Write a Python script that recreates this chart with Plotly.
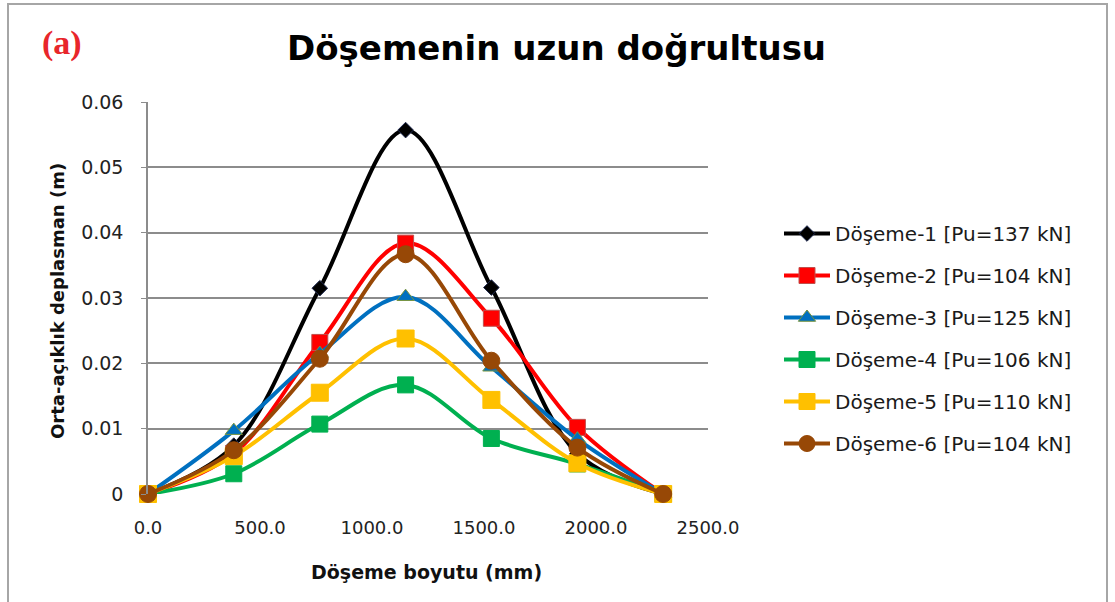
import plotly.graph_objects as go

# ---- data ----
x_mm = [0, 383, 767, 1150, 1533, 1917, 2300]
doseme1 = [0, 0.0074, 0.0315, 0.0557, 0.0316, 0.0062, 0]
doseme2 = [0, 0.0062, 0.0232, 0.0384, 0.0269, 0.0102, 0]
doseme3 = [0, 0.0097, 0.0215, 0.0302, 0.0194, 0.0084, 0]
doseme4 = [0, 0.0031, 0.0107, 0.0167, 0.0085, 0.0046, 0]
doseme5 = [0, 0.0058, 0.0155, 0.0238, 0.0144, 0.0047, 0]
doseme6 = [0, 0.0067, 0.0207, 0.0367, 0.0204, 0.0071, 0]
names = ["Döşeme-1 [Pu=137 kN]", "Döşeme-2 [Pu=104 kN]", "Döşeme-3 [Pu=125 kN]",
         "Döşeme-4 [Pu=106 kN]", "Döşeme-5 [Pu=110 kN]", "Döşeme-6 [Pu=104 kN]"]
x_ticks = [0, 500, 1000, 1500, 2000, 2500]
x_tick_labels = ["0.0", "500.0", "1000.0", "1500.0", "2000.0", "2500.0"]

series = [doseme1, doseme2, doseme3, doseme4, doseme5, doseme6]
styles = [
    dict(color="#000000", symbol="diamond", size=12, lc="#1f2a50"),
    dict(color="#ff0000", symbol="square", size=16, lc="#c0504d"),
    dict(color="#0070c0", symbol="triangle-up", size=15, lc="#77933c"),
    dict(color="#00b050", symbol="square", size=16, lc="#00b050"),
    dict(color="#ffc000", symbol="square", size=17, lc="#ffc000"),
    dict(color="#974806", symbol="circle", size=17, lc="#974806"),
]

L, R, T, B = 148, 1115 - 708, 102, 602 - 494
PW, PH = 1115 - L - R, 602 - T - B


def px(xp):
    return (xp - L) / PW


def py(yp):
    return (494 - yp) / PH


fig = go.Figure()
for i, (ys, nm, st) in enumerate(zip(series, names, styles)):
    fig.add_trace(go.Scatter(
        x=x_mm, y=ys, name=nm, mode="lines+markers",
        line=dict(color=st["color"], width=4, shape="spline", smoothing=1.0),
        marker=dict(symbol=st["symbol"], size=st["size"], color=st["color"],
                    line=dict(color=st["lc"], width=1)),
        legendgroup=f"g{i}", cliponaxis=False,
    ))

fig.update_layout(
    width=1115, height=602,
    margin=dict(l=L, r=R, t=T, b=B),
    paper_bgcolor="white", plot_bgcolor="white",
    font=dict(family="DejaVu Sans", color="#222222"),
    showlegend=True,
    legend=dict(x=px(779), y=py(214), xanchor="left", yanchor="top",
                font=dict(family="DejaVu Sans", size=20, color="#1a1a1a"),
                tracegroupgap=13, itemwidth=46, bgcolor="rgba(0,0,0,0)"),
    xaxis=dict(range=[0, 2500], tickvals=x_ticks, ticktext=x_tick_labels,
               showgrid=False, zeroline=False, showline=False, ticks="",
               ticklabelstandoff=21,
               tickfont=dict(family="DejaVu Sans", size=18, color="#222222")),
    yaxis=dict(range=[0, 0.06], dtick=0.01, showgrid=True, gridcolor="#8c8c8c",
               gridwidth=1.5, zeroline=False, showline=True, linecolor="#8c8c8c",
               linewidth=1.5, ticks="outside", ticklen=5, tickcolor="#8c8c8c",
               ticklabelstandoff=14,
               tickfont=dict(family="DejaVu Sans", size=19, color="#222222")),
    shapes=[dict(type="rect", xref="paper", yref="paper",
                 x0=px(8), x1=px(1107), y0=py(620), y1=py(4),
                 line=dict(color="#a6a6a6", width=2), layer="below")],
    annotations=[
        dict(text="<b>Döşemenin uzun doğrultusu</b>", xref="paper", yref="paper",
             x=px(556), y=py(48), showarrow=False, xanchor="center", yanchor="middle",
             font=dict(family="DejaVu Sans", size=34, color="#000000")),
        dict(text="<b>(a)</b>", xref="paper", yref="paper",
             x=px(62), y=py(43), showarrow=False, xanchor="center", yanchor="middle",
             font=dict(family="Liberation Serif", size=34, color="#e8262b")),
        dict(text="<b>Döşeme boyutu (mm)</b>", xref="paper", yref="paper",
             x=px(426), y=py(572), showarrow=False, xanchor="center", yanchor="middle",
             font=dict(family="DejaVu Sans", size=19, color="#111111")),
        dict(text="<b>Orta-açıklık deplasman (m)</b>", xref="paper", yref="paper",
             x=px(57), y=py(301), showarrow=False, xanchor="center", yanchor="middle",
             textangle=-90,
             font=dict(family="DejaVu Sans", size=18, color="#111111")),
    ],
)

fig.write_html("out.html", config={"displayModeBar": False},
               post_script="document.body.style.margin='0px';")
